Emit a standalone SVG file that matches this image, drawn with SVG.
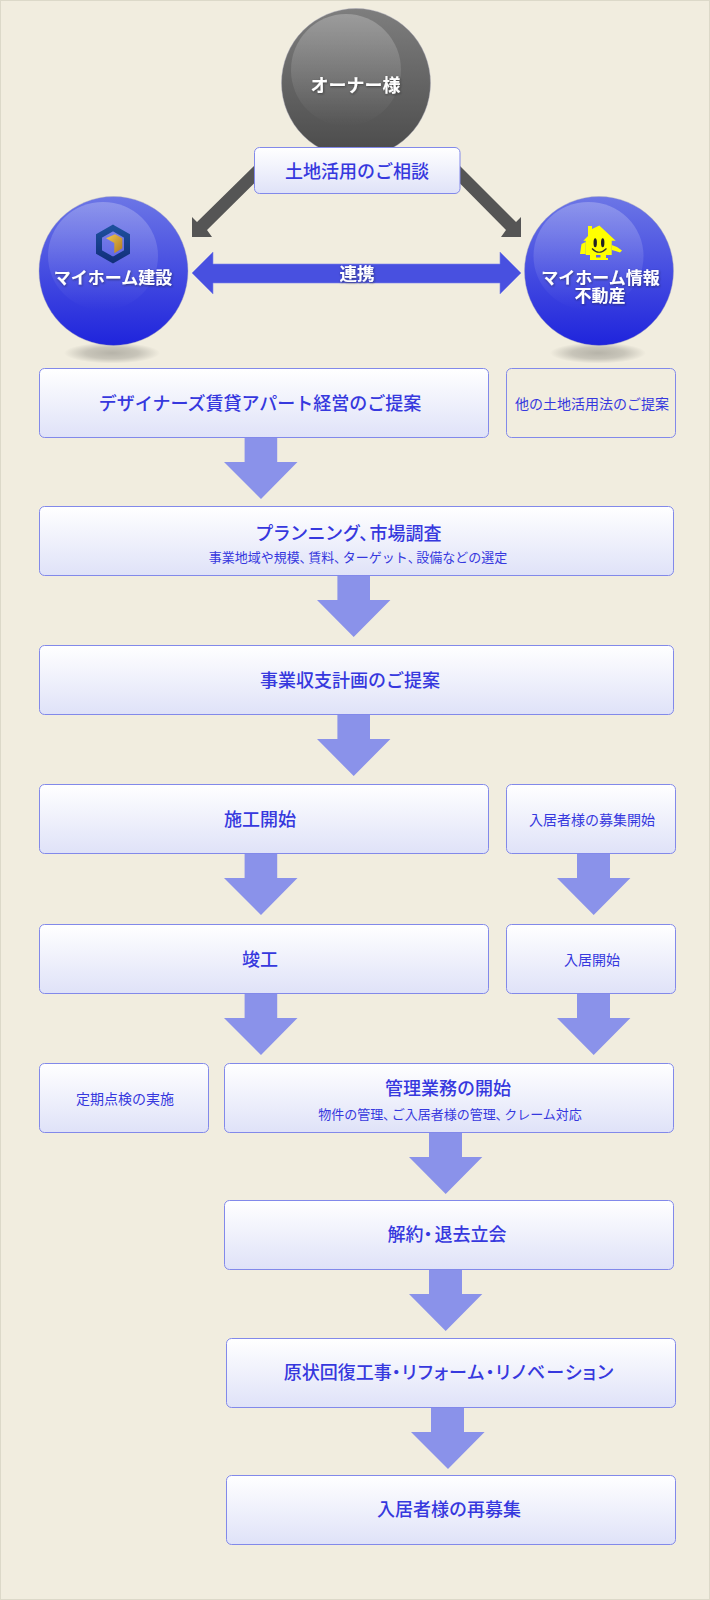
<svg xmlns="http://www.w3.org/2000/svg" width="710" height="1600" viewBox="0 0 710 1600">
<style>
text{font-family:"Noto Sans CJK JP","Noto Sans",sans-serif;text-anchor:middle;font-weight:500}
.t{fill:#3638de}
.l{font-size:18px}.m{font-size:14px;font-weight:400}.s{font-size:13px;font-weight:400}
.w{fill:#fff;filter:url(#ts);font-weight:700}
.p{font-feature-settings:"palt"}
.c{font-feature-settings:"palt";letter-spacing:2px}
.box{fill:url(#bg);stroke:#8289ea;stroke-width:1}
.down{fill:#8a92ea}
.diag{fill:#555}
.rim{stroke:#a8a8b8;stroke-width:.8;stroke-opacity:.5}
</style>
<defs>
<linearGradient id="bg" x1="0" y1="0" x2="0" y2="1"><stop offset="0" stop-color="#fff"/><stop offset="1" stop-color="#dfe2f8"/></linearGradient>
<linearGradient id="gray" x1="0" y1="0" x2="0" y2="1"><stop offset="0" stop-color="#7e7e7e"/><stop offset="1" stop-color="#4a4a4a"/></linearGradient>
<linearGradient id="blue" x1="0" y1="0" x2="0" y2="1"><stop offset="0" stop-color="#6c76e6"/><stop offset="1" stop-color="#1f24dc"/></linearGradient>
<linearGradient id="hl" x1="0" y1="0" x2="0" y2="1"><stop offset="0" stop-color="#fff" stop-opacity=".24"/><stop offset="1" stop-color="#fff" stop-opacity="0"/></linearGradient>
<radialGradient id="sh"><stop offset="0" stop-color="#8f8d85" stop-opacity=".6"/><stop offset=".55" stop-color="#8f8d85" stop-opacity=".42"/><stop offset="1" stop-color="#8f8d85" stop-opacity="0"/></radialGradient>
<linearGradient id="hex" x1="0" y1="0" x2="0" y2="1"><stop offset="0" stop-color="#1d4f9c"/><stop offset="1" stop-color="#12307c"/></linearGradient>
<linearGradient id="gold" x1="0" y1="0" x2="1" y2="1"><stop offset="0" stop-color="#f0c850"/><stop offset="1" stop-color="#b07a20"/></linearGradient>
<filter id="ts" x="-20%" y="-30%" width="140%" height="160%"><feDropShadow dx="0.6" dy="1" stdDeviation="1" flood-color="#222" flood-opacity=".55"/></filter>
</defs>
<rect x="0.5" y="0.5" width="709" height="1599" fill="#f1eddf" stroke="#dcd9c9"/>

<g id="connectors">
<path class="diag" d="M254 166 L197 222 L192 217 L192 237 L212 237 L207 230 L254 183.500Z"/>
<path class="diag" d="M460 166 L516 222 L521 217 L521 237 L501 237 L506 230 L460 183.500Z"/>
<path d="M192 273 L213 252 V264 H500 V252 L521 273 L500 294 V283 H213 V294Z" fill="#4850e0" stroke="#7d84ea" stroke-width=".6"/>
<path class="down" d="M244.600 437.700H277.200V462H297.500L261 499L224 462H244.600Z"/>
<path class="down" d="M337.400 575.700H370V600H390.400L353.700 637L317 600H337.400Z"/>
<path class="down" d="M337.400 714.700H370V739H390.400L353.700 776L317 739H337.400Z"/>
<path class="down" d="M244.600 853.700H277.200V878H297.500L261 915L224 878H244.600Z"/>
<path class="down" d="M577 853.700H610V878H630.400L593.700 915L557 878H577Z"/>
<path class="down" d="M244.600 993.700H277.200V1018H297.500L261 1055L224 1018H244.600Z"/>
<path class="down" d="M577 993.700H610V1018H630.400L593.700 1055L557 1018H577Z"/>
<path class="down" d="M429 1132.700H462V1157H482.300L445.700 1194L409 1157H429Z"/>
<path class="down" d="M429 1269.700H462V1294H482.300L445.700 1331L409 1294H429Z"/>
<path class="down" d="M431 1407.700H464V1432H484.600L448 1469L411 1432H431Z"/>
</g>

<g id="owner">
<circle class="rim" cx="356" cy="83" r="74.500" fill="url(#gray)"/>
<ellipse cx="346" cy="70" rx="55" ry="56" fill="url(#hl)"/>
<text class="w l" x="355.500" y="92">オーナー様</text>
</g>
<g id="consult">
<rect class="box" x="254.500" y="147.500" width="205.500" height="46" rx="5"/>
<text class="t l" x="357" y="177.500">土地活用のご相談</text>
</g>
<text id="renkei" class="w" x="357" y="280" font-size="17.500">連携</text>

<g id="myhome-kensetsu">
<ellipse cx="112" cy="353" rx="48" ry="10.500" fill="url(#sh)"/>
<circle class="rim" cx="113.500" cy="271" r="74.500" fill="url(#blue)"/>
<ellipse cx="103" cy="256" rx="55" ry="54" fill="url(#hl)"/>
<path d="M113 228 L127 236 V252 L113 260 L99 252 V236Z" fill="none" stroke="url(#hex)" stroke-width="6"/>
<path d="M106 238.300 L115 234.300 L122.300 238.300 V248.300 L114.300 253.300 V243Z" fill="url(#gold)"/>
<text class="w" x="113" y="283.500" font-size="17px">マイホーム建設</text>
</g>
<g id="myhome-joho">
<ellipse cx="598" cy="353" rx="48" ry="10.500" fill="url(#sh)"/>
<circle class="rim" cx="599" cy="271" r="74.500" fill="url(#blue)"/>
<ellipse cx="588.500" cy="256" rx="55" ry="54" fill="url(#hl)"/>
<g>
<path d="M588 226H592V229L599.300 225.500L615.700 240.700H611.700V255H585.700V240.700H583.300L588 236Z" fill="#ff0"/>
<path d="M581.500 244L585.700 242V254H580Z" fill="#ff0"/>
<path d="M611.700 245L617 247L622 250.500L620 252.500L615.500 251L611.700 250Z" fill="#ff0"/>
<path d="M590 255H596V257.500H600.500V255H606V258H608V260H590Z" fill="#ff0"/>
<ellipse cx="595.200" cy="242.700" rx="1.700" ry="4.500" fill="#222"/>
<ellipse cx="602.700" cy="242.700" rx="1.700" ry="4.500" fill="#222"/>
<path d="M592 248.500Q599 256 606.500 248.500" fill="none" stroke="#333" stroke-width="1.200"/>
</g>
<text class="w" x="600.500" y="283.700" font-size="17px">マイホーム情報</text>
<text class="w" x="600" y="301.500" font-size="17px">不動産</text>
</g>

<g id="n1"><rect class="box" x="39.500" y="368.500" width="449" height="69" rx="5"/><text class="t l" x="260" y="409.800">デザイナーズ賃貸アパート経営のご提案</text></g>
<g id="n1b"><rect x="506.500" y="368.500" width="169" height="69" rx="5" fill="none" stroke="#8289ea"/><text class="t m" x="592" y="409">他の土地活用法のご提案</text></g>
<g id="n2"><rect class="box" x="39.500" y="506.500" width="634" height="69" rx="5"/><text class="t l" x="349" y="539.800"><tspan class="p" letter-spacing="1.200">プランニング、</tspan>市場調査</text><text class="t s" x="358" y="561.900">事業地域や規模<tspan class="c">、</tspan>賃料<tspan class="c">、</tspan>ターゲット<tspan class="c">、</tspan>設備などの選定</text></g>
<g id="n3"><rect class="box" x="39.500" y="645.500" width="634" height="69" rx="5"/><text class="t l" x="350" y="686.800">事業収支計画のご提案</text></g>
<g id="n4"><rect class="box" x="39.500" y="784.500" width="449" height="69" rx="5"/><text class="t l" x="260" y="826">施工開始</text></g>
<g id="n4b"><rect class="box" x="506.500" y="784.500" width="169" height="69" rx="5"/><text class="t m" x="592" y="825.300">入居者様の募集開始</text></g>
<g id="n5"><rect class="box" x="39.500" y="924.500" width="449" height="69" rx="5"/><text class="t l" x="260" y="965.800">竣工</text></g>
<g id="n5b"><rect class="box" x="506.500" y="924.500" width="169" height="69" rx="5"/><text class="t m" x="592" y="965.300">入居開始</text></g>
<g id="n6a"><rect class="box" x="39.500" y="1063.500" width="169" height="69" rx="5"/><text class="t m" x="125" y="1104.300">定期点検の実施</text></g>
<g id="n6"><rect class="box" x="224.500" y="1063.500" width="449" height="69" rx="5"/><text class="t l" x="448" y="1095">管理業務の開始</text><text class="t s" x="450" y="1119.200">物件の管理<tspan class="c">、</tspan>ご入居者様の管理<tspan class="c">、</tspan>クレーム対応</text></g>
<g id="n7"><rect class="box" x="224.500" y="1200.500" width="449" height="69" rx="5"/><text class="t l" x="447" y="1240.800">解約<tspan class="c">・</tspan>退去立会</text></g>
<g id="n8"><rect class="box" x="226.500" y="1338.500" width="449" height="69" rx="5"/><text class="t l" x="449" y="1379">原状回復工事<tspan class="p" letter-spacing="1.150">・リフォーム・リノベーション</tspan></text></g>
<g id="n9"><rect class="box" x="226.500" y="1475.500" width="449" height="69" rx="5"/><text class="t l" x="449" y="1516">入居者様の再募集</text></g>
</svg>
